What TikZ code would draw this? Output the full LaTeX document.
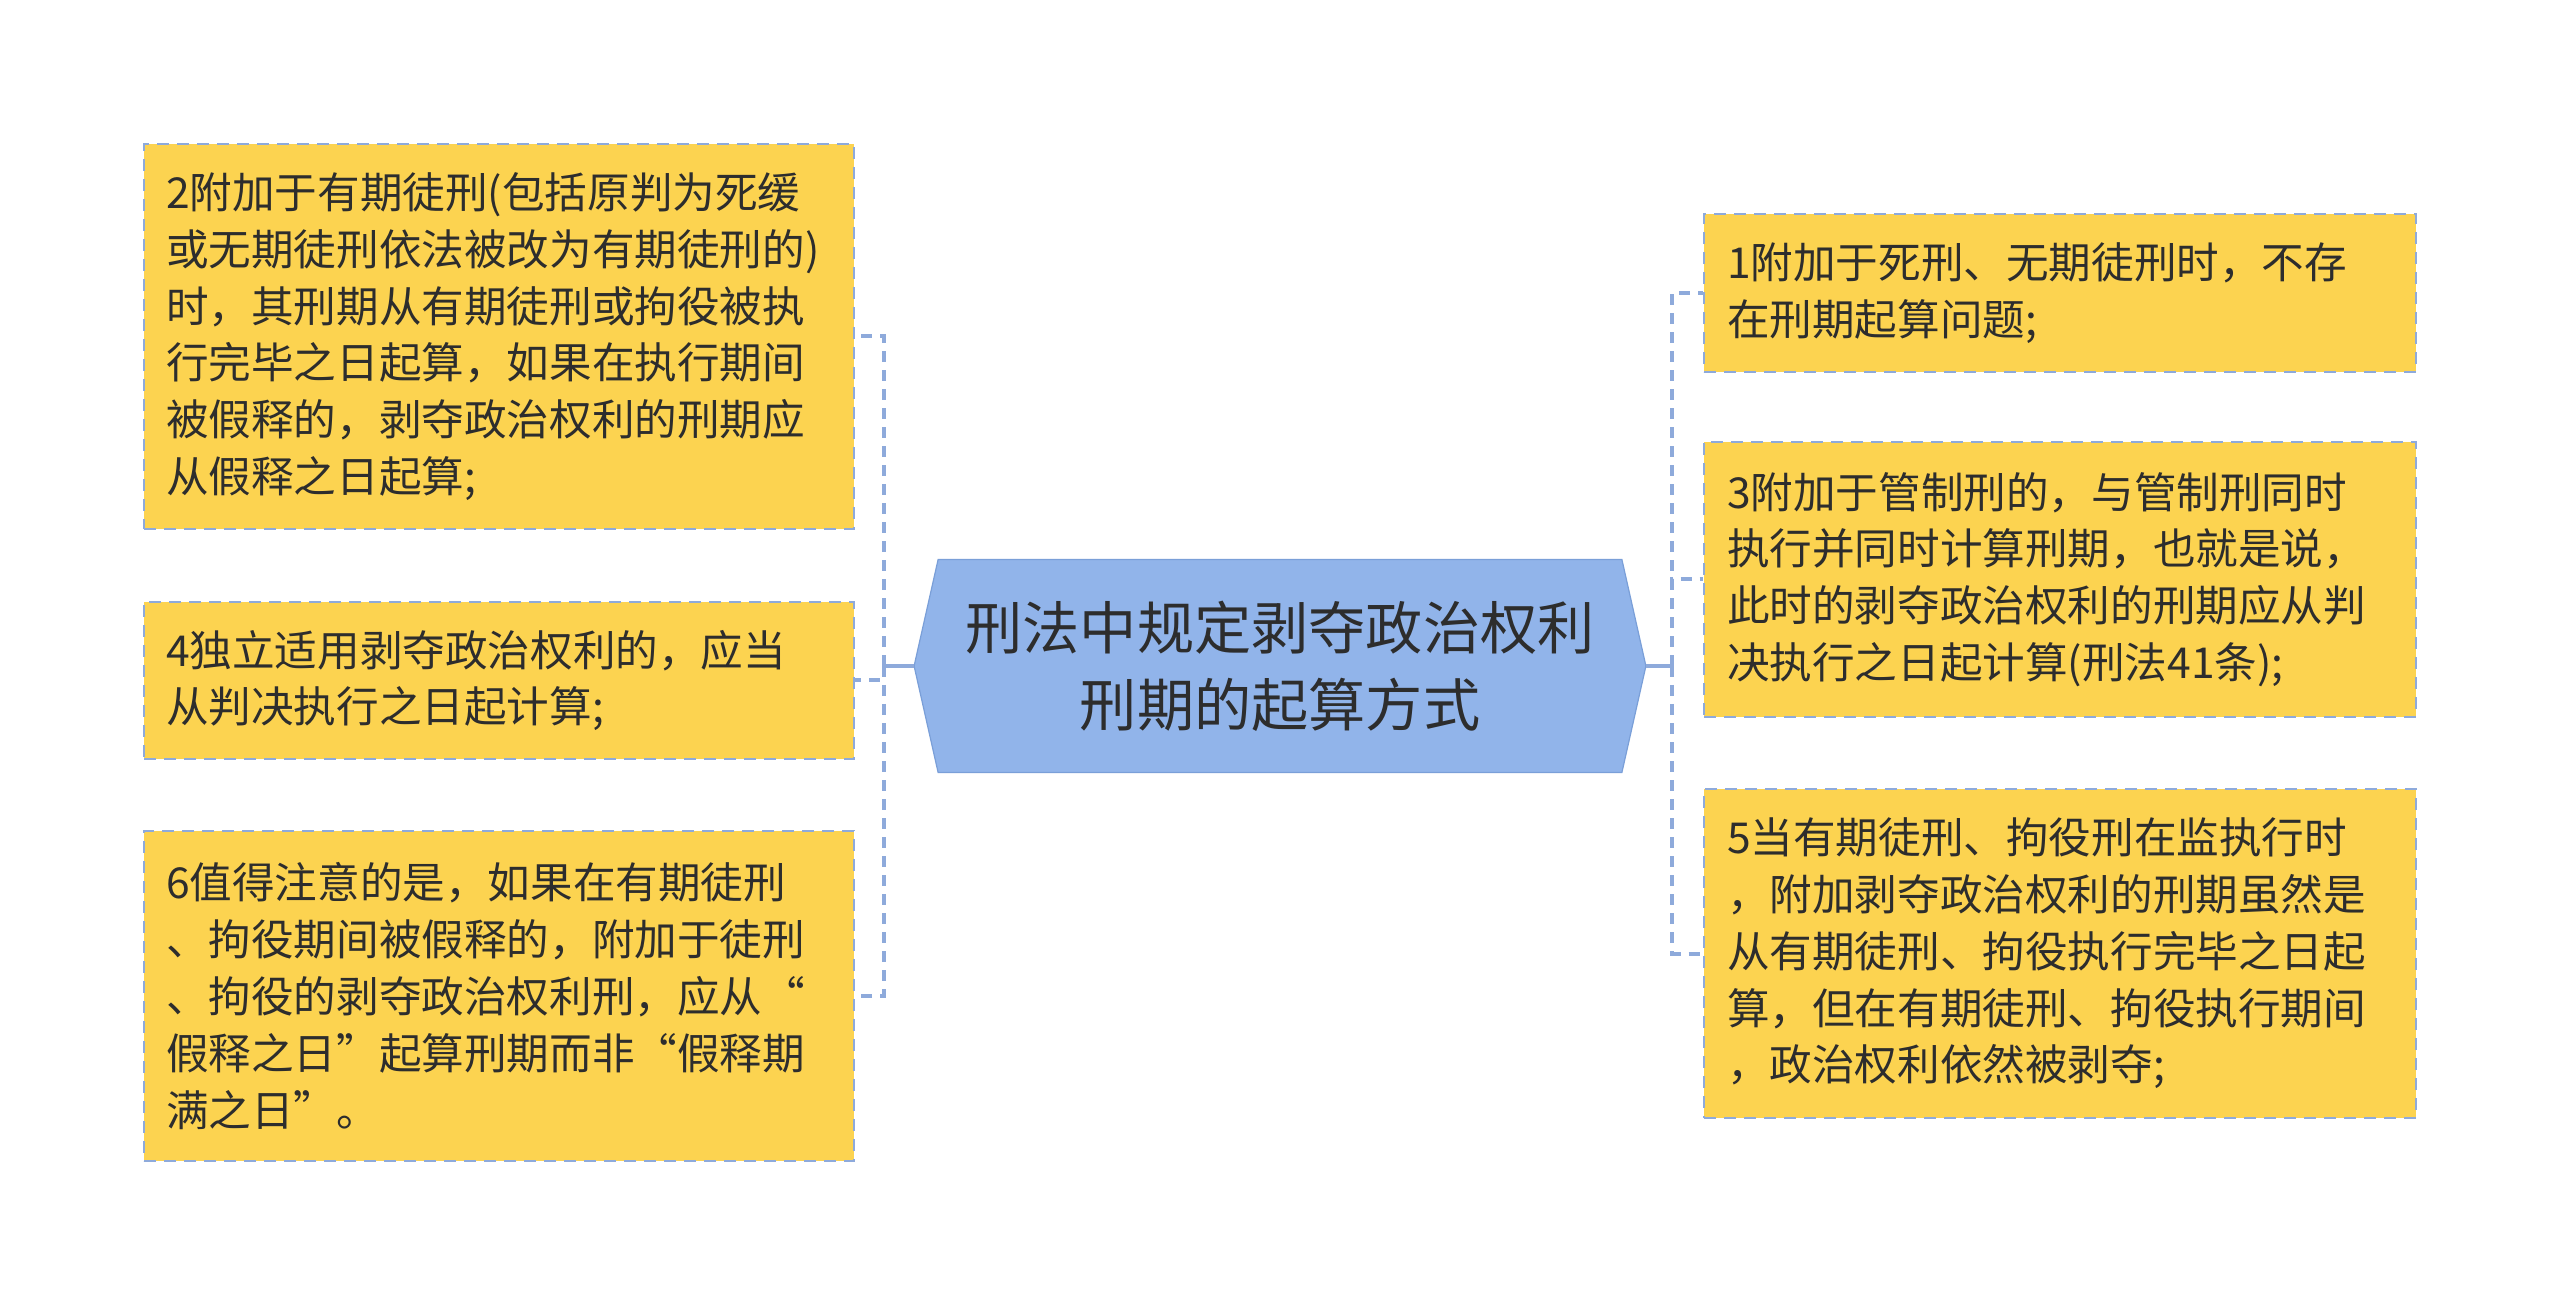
\documentclass[tikz,border=0pt]{standalone}
\usepackage{fontspec}
\setmainfont{Noto Sans CJK SC}
\usetikzlibrary{backgrounds}
\definecolor{boxfill}{RGB}{252,211,80}
\definecolor{boxline}{RGB}{142,170,219}
\definecolor{hexfill}{RGB}{145,180,234}
\definecolor{hexline}{RGB}{122,159,216}
\definecolor{txt}{RGB}{45,45,45}
\tikzset{
  leaf/.style={draw=boxline, line width=1.3pt, dash pattern=on 6pt off 4pt, fill=boxfill,
    text=txt, align=left, inner xsep=11pt, inner ysep=0pt,
    font={\fontsize{21.3pt}{28.4pt}\selectfont}},
  leftleaf/.style={leaf, text width=333pt, minimum width=355pt},
  rightleaf/.style={leaf, text width=333pt, minimum width=356pt},
  root/.style={text=txt, align=center, minimum width=341.5pt, minimum height=106pt,
    font={\fontsize{28.6pt}{38.4pt}\selectfont}},
  conn/.style={draw=boxline, line width=2pt},
  dconn/.style={conn, dash pattern=on 5.5pt off 4pt},
}
\begin{document}
\begin{tikzpicture}[x=0.5pt, y=-0.5pt]
\useasboundingbox (0,0) rectangle (2560,1304);

\node[root] (c) at (1280,666) {刑法中规定剥夺政治权利\\刑期的起算方式};
\begin{scope}[on background layer]
\fill[white] (0,0) rectangle (2560,1304);
\draw[fill=hexfill, draw=hexline, line width=0.6pt]
  ([xshift=-12pt]c.west) -- (c.north west) -- (c.north east) -- ([xshift=12pt]c.east)
  -- (c.south east) -- (c.south west) -- cycle;
\end{scope}

\node[leftleaf, minimum height=192.5pt] (l1) at (499,336.5)
  {2附加于有期徒刑(包括原判为死缓\\或无期徒刑依法被改为有期徒刑的)\\时，其刑期从有期徒刑或拘役被执\\行完毕之日起算，如果在执行期间\\被假释的，剥夺政治权利的刑期应\\从假释之日起算;};
\node[leftleaf, minimum height=78.5pt] (l2) at (499,680.5)
  {4独立适用剥夺政治权利的，应当\\从判决执行之日起计算;};
\node[leftleaf, minimum height=165pt] (l3) at (499,996)
  {6值得注意的是，如果在有期徒刑\\、拘役期间被假释的，附加于徒刑\\、拘役的剥夺政治权利刑，应从“\\假释之日”起算刑期而非“假释期\\满之日”。};

\node[rightleaf, minimum height=79pt] (r1) at (2060,293)
  {1附加于死刑、无期徒刑时，不存\\在刑期起算问题;};
\node[rightleaf, minimum height=137.5pt] (r2) at (2060,579.5)
  {3附加于管制刑的，与管制刑同时\\执行并同时计算刑期，也就是说，\\此时的剥夺政治权利的刑期应从判\\决执行之日起计算(刑法41条);};
\node[rightleaf, minimum height=164.5pt] (r3) at (2060,953.5)
  {5当有期徒刑、拘役刑在监执行时\\，附加剥夺政治权利的刑期虽然是\\从有期徒刑、拘役执行完毕之日起\\算，但在有期徒刑、拘役执行期间\\，政治权利依然被剥夺;};

\coordinate (lt) at (884,666);
\coordinate (rt) at (1672,666);
\draw[conn] ([xshift=-12pt]c.west) -- (lt);
\draw[conn] ([xshift=12pt]c.east) -- (rt);
\draw[dconn] (lt) |- (l1.east);
\draw[dconn] (lt) |- (l2.east);
\draw[dconn] (lt) |- (l3.east);
\draw[dconn] (rt) |- (r1.west);
\draw[dconn] (rt) |- (r2.west);
\draw[dconn] (rt) |- (r3.west);
\end{tikzpicture}
\end{document}
